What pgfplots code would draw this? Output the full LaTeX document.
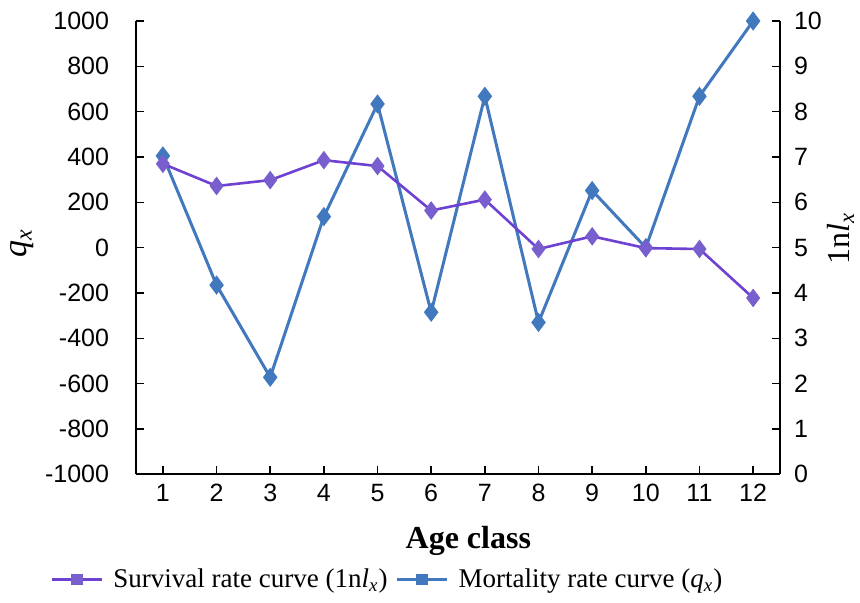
\documentclass[border=0pt]{standalone}
\usepackage{pgfplots}
\pgfplotsset{compat=1.18}
\usepackage{fontspec}
\setmainfont{Liberation Serif}
\newfontfamily\ticksfont{Liberation Sans}
\definecolor{mblue}{RGB}{65,120,190}
\definecolor{spurple}{RGB}{110,65,210}
\definecolor{spurplem}{RGB}{120,95,205}
\newcommand{\lx}{\textit{l}\textsubscript{\textit{x}}}
\newcommand{\qx}{\textit{q}\textsubscript{\textit{x}}}
\begin{document}
\begin{tikzpicture}
\pgfplotsset{
  common/.style={
    width=321.75pt, height=226.5pt, scale only axis,
    xmin=0.5, xmax=12.5,
    xtick={1,...,12},
    tick label style={font=\ticksfont\fontsize{12.5}{14}\selectfont},
    /pgf/number format/assume math mode=true,
    major tick length=4pt,
    tick style={black, line width=0.8pt},
    axis line style={black, line width=0.8pt},
  }
}
\begin{axis}[common, name=ax1,
  axis y line*=left, axis x line*=bottom,
  ymin=-1000, ymax=1000, ytick={-1000,-800,...,1000},
  yticklabel style={/pgf/number format/.cd, fixed, 1000 sep={}, /tikz/.cd, xshift=-10pt},
  xticklabel style={yshift=-1.5pt},
  ylabel={\fontsize{17}{19}\selectfont\qx},
  ylabel style={at={(axis description cs:-0.177,0.51)}, anchor=center},
  xlabel={\fontsize{16}{18}\selectfont\bfseries Age class},
  xlabel style={at={(axis description cs:0.516,-0.146)}, anchor=center},
]
\addplot[mblue, line width=1.5pt, mark=diamond*, mark size=3.6pt, mark options={fill=mblue, draw=mblue}]
coordinates {(1,405) (2,-165) (3,-572) (4,137) (5,634) (6,-285) (7,668) (8,-330) (9,252) (10,0) (11,668) (12,1000)};
\end{axis}
\begin{axis}[common,
  axis y line*=right, axis x line=none,
  ymin=0, ymax=10, ytick={0,1,...,10},
  yticklabel style={xshift=3.5pt},
  ylabel={\fontsize{16}{18}\selectfont 1n\lx},
  ylabel style={at={(axis description cs:1.094,0.52)}, anchor=center},
  legend style={at={(0.392,-0.232)}, anchor=center, draw=none, fill=none, legend columns=2,
    font=\fontsize{13.5}{16}\selectfont, inner sep=0pt,
    /tikz/every odd column/.append style={column sep=3pt},
    /tikz/every even column/.append style={column sep=2pt}},
  legend cell align=left,
  legend image code/.code={\draw[#1, mark repeat=2, mark phase=2] plot coordinates {(0pt,0pt) (12.5pt,0pt) (25pt,0pt)};},
]
\addplot[spurple, line width=1.3pt, mark=diamond*, mark size=3.6pt, mark options={fill=spurplem, draw=spurplem}, forget plot]
coordinates {(1,6.85) (2,6.36) (3,6.49) (4,6.93) (5,6.80) (6,5.82) (7,6.06) (8,4.97) (9,5.25) (10,4.99) (11,4.97) (12,3.89)};
\addlegendimage{spurple, line width=1.3pt, mark=square*, mark size=2.2pt, mark options={fill=spurplem, draw=spurplem}}
\addlegendentry{Survival rate curve (1n\lx)}
\addlegendimage{mblue, line width=1.5pt, mark=square*, mark size=2.2pt, mark options={fill=mblue}}
\addlegendentry{Mortality rate curve (\qx)}
\end{axis}
\pgfresetboundingbox
\path[use as bounding box] (-68pt,-64pt) rectangle (361.75pt,237pt);
\end{tikzpicture}
\end{document}
